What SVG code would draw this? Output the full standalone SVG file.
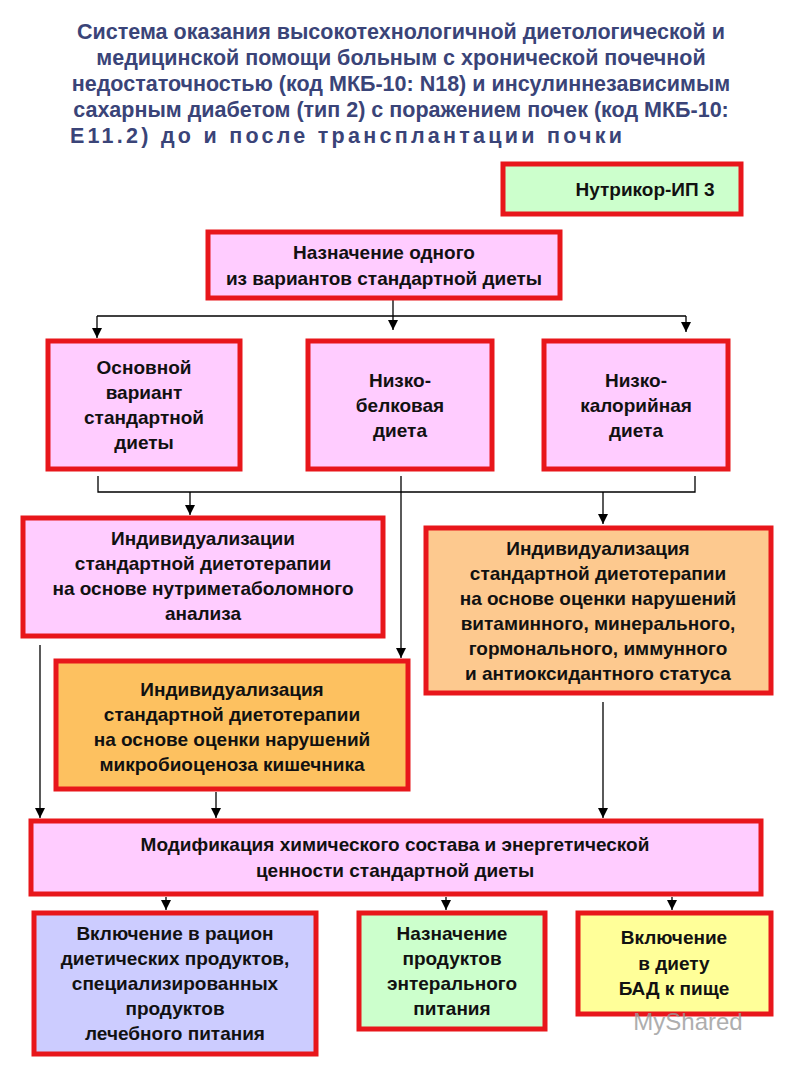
<svg xmlns="http://www.w3.org/2000/svg" width="800" height="1067" viewBox="0 0 800 1067">
<defs>
<marker id="ad" markerWidth="10" markerHeight="10" refX="5" refY="10" markerUnits="userSpaceOnUse" viewBox="0 0 10 10"><path d="M0,0 L10,0 L5,10 Z" fill="#000"/></marker>
<style>
.b{stroke:#e8161b;stroke-width:5}
.t{font-family:"Liberation Sans",Arial,sans-serif;font-weight:bold;font-size:19px;fill:#111;text-anchor:middle}
.h{font-family:"Liberation Sans",Arial,sans-serif;font-weight:bold;font-size:21.5px;fill:#3a4478;text-anchor:middle}
.c{stroke:#000;stroke-width:1.3;fill:none}
</style>
</defs>
<rect width="800" height="1067" fill="#fff"/>
<g id="title" class="h">
<text x="401" y="39">Система оказания высокотехнологичной диетологической и</text>
<text x="401" y="65">медицинской помощи больным с хронической почечной</text>
<text x="401" y="91">недостаточностью (код МКБ-10: N18) и инсулиннезависимым</text>
<text x="401" y="117">сахарным диабетом (тип 2) с поражением почек (код МКБ-10:</text>
<text x="70" y="143" text-anchor="start" textLength="552" lengthAdjust="spacing">E11.2) до и после трансплантации почки</text>
</g>
<g id="connectors" class="c">
<path d="M393 298 V330" marker-end="url(#ad)"/>
<path d="M97 316 H686"/>
<path d="M97 316 V338" marker-end="url(#ad)"/>
<path d="M686 316 V332" marker-end="url(#ad)"/>
<path d="M98 476 V492 H695 V476"/>
<path d="M401 476 V658" marker-end="url(#ad)"/>
<path d="M190 492 V515" marker-end="url(#ad)"/>
<path d="M603 492 V524" marker-end="url(#ad)"/>
<path d="M40 645 V818" marker-end="url(#ad)"/>
<path d="M216 792 V818" marker-end="url(#ad)"/>
<path d="M603 702 V818" marker-end="url(#ad)"/>
<path d="M166 897 V910" marker-end="url(#ad)"/>
<path d="M446 897 V910" marker-end="url(#ad)"/>
<path d="M672 897 V910" marker-end="url(#ad)"/>
</g>
<g id="n-nutrikor"><rect class="b" x="503" y="164" width="238" height="50" fill="#ccffcc"/><text class="t" x="645" y="196">Нутрикор-ИП 3</text></g>
<g id="n-naznach"><rect class="b" x="208" y="232" width="352" height="66" fill="#ffccff"/><text class="t" x="384" y="259">Назначение одного</text><text class="t" x="384" y="285">из вариантов стандартной диеты</text></g>
<g id="n-osn"><rect class="b" x="48" y="341" width="192" height="128" fill="#ffccff"/><text class="t" x="144" y="374">Основной</text><text class="t" x="144" y="399">вариант</text><text class="t" x="144" y="424">стандартной</text><text class="t" x="144" y="449">диеты</text></g>
<g id="n-belk"><rect class="b" x="308" y="341" width="184" height="128" fill="#ffccff"/><text class="t" x="400" y="387">Низко-</text><text class="t" x="400" y="412">белковая</text><text class="t" x="400" y="437">диета</text></g>
<g id="n-kal"><rect class="b" x="544" y="341" width="184" height="128" fill="#ffccff"/><text class="t" x="636" y="387">Низко-</text><text class="t" x="636" y="412">калорийная</text><text class="t" x="636" y="437">диета</text></g>
<g id="n-ind1"><rect class="b" x="23" y="518" width="360" height="118" fill="#ffccff"/><text class="t" x="203" y="545">Индивидуализации</text><text class="t" x="203" y="570">стандартной диетотерапии</text><text class="t" x="203" y="595">на основе нутриметаболомного</text><text class="t" x="203" y="620">анализа</text></g>
<g id="n-ind2"><rect class="b" x="426" y="528" width="345" height="165" fill="#fdc98f"/><text class="t" x="598" y="555">Индивидуализация</text><text class="t" x="598" y="580">стандартной диетотерапии</text><text class="t" x="598" y="605">на основе оценки нарушений</text><text class="t" x="598" y="630">витаминного, минерального,</text><text class="t" x="598" y="655">гормонального,  иммунного</text><text class="t" x="598" y="680">и антиоксидантного статуса</text></g>
<g id="n-ind3"><rect class="b" x="56" y="661" width="352" height="128" fill="#fdc160"/><text class="t" x="232" y="696">Индивидуализация</text><text class="t" x="232" y="721">стандартной диетотерапии</text><text class="t" x="232" y="746">на основе оценки нарушений</text><text class="t" x="232" y="771">микробиоценоза кишечника</text></g>
<g id="n-mod"><rect class="b" x="31" y="821" width="730" height="73" fill="#ffccff"/><text class="t" x="395" y="851">Модификация химического состава и энергетической</text><text class="t" x="395" y="877">ценности стандартной диеты</text></g>
<g id="n-vkl"><rect class="b" x="34" y="913" width="282" height="141" fill="#ccccff"/><text class="t" x="175" y="940">Включение в рацион</text><text class="t" x="175" y="965">диетических продуктов,</text><text class="t" x="175" y="990">специализированных</text><text class="t" x="175" y="1015">продуктов</text><text class="t" x="175" y="1040">лечебного питания</text></g>
<g id="n-ent"><rect class="b" x="359" y="913" width="186" height="116" fill="#ccffcc"/><text class="t" x="452" y="940">Назначение</text><text class="t" x="452" y="965">продуктов</text><text class="t" x="452" y="990">энтерального</text><text class="t" x="452" y="1015">питания</text></g>
<g id="n-bad"><rect class="b" x="578" y="913" width="193" height="101" fill="#ffff99"/><text class="t" x="674" y="944">Включение</text><text class="t" x="674" y="970">в диету</text><text class="t" x="674" y="995">БАД к пище</text></g>
<text x="688" y="1030" font-family="Liberation Sans,Arial,sans-serif" font-size="24" fill="#9a9a9a" text-anchor="middle" opacity="0.8">MyShared</text>
</svg>
